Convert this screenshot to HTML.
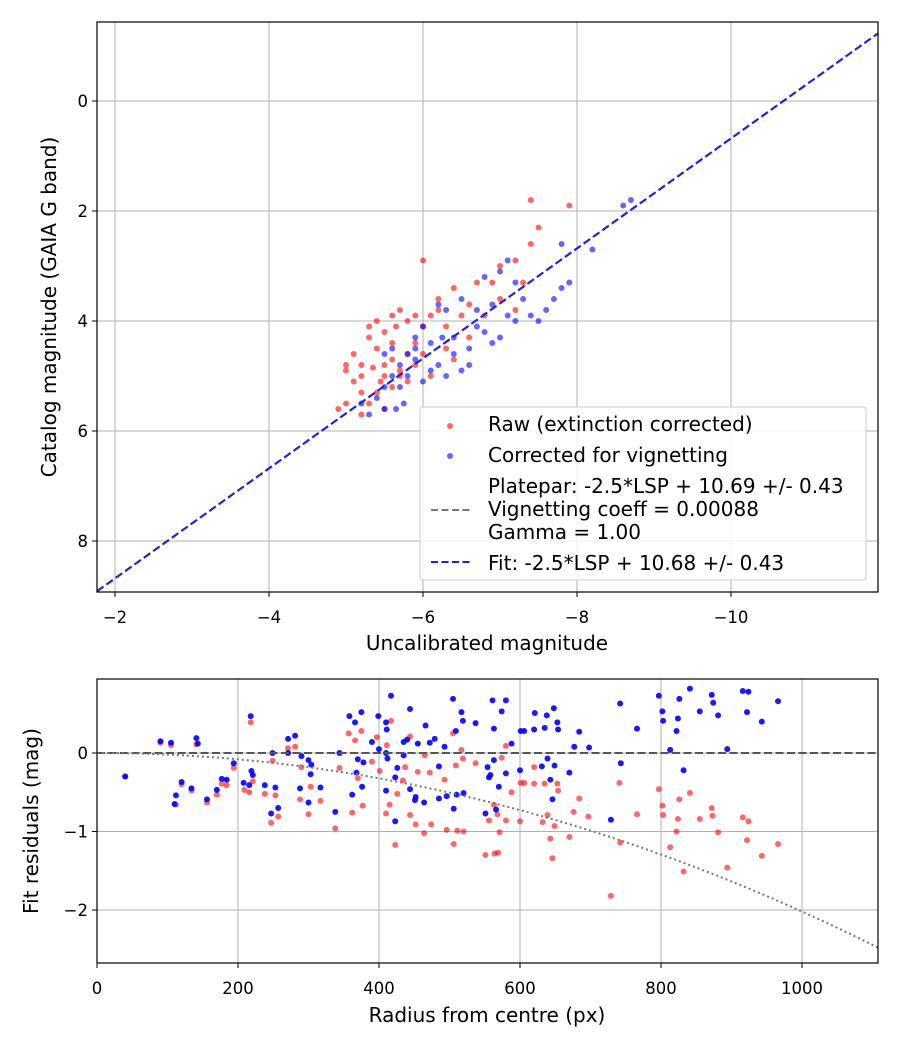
<!DOCTYPE html>
<html><head><meta charset="utf-8"><style>
body{margin:0;background:#fff}
svg text{font-family:"DejaVu Sans","Liberation Sans",sans-serif;fill:#000}
</style></head><body>
<svg id="c" width="900" height="1050" xmlns="http://www.w3.org/2000/svg"></svg>
<script>
const topXTicks=[-2,-4,-6,-8,-10];
const topYTicks=[0,2,4,6,8];
const botXTicks=[0,200,400,600,800,1000];
const botYTicks=[0,-1,-2];
const fitIntercept=10.68;
const vignK=2.02e-6;
const topRed=[[-5.0,4.9],[-5.1,4.6],[-5.2,5.0],[-5.3,4.3],[-5.2,4.8],[-5.4,4.5],[-5.5,4.2],[-5.6,3.9],[-5.7,3.8],[-5.6,4.7],[-5.5,5.0],[-5.4,5.3],[-5.3,5.5],[-5.0,5.5],[-5.2,5.7],[-5.5,5.6],[-5.6,5.2],[-5.8,4.6],[-5.9,4.4],[-6.0,4.1],[-6.1,3.9],[-6.0,2.9],[-6.2,3.6],[-6.4,3.4],[-6.5,3.9],[-6.6,3.7],[-6.7,3.3],[-6.9,3.3],[-7.0,3.0],[-7.2,2.9],[-7.3,3.3],[-7.4,2.6],[-7.5,2.3],[-7.4,1.8],[-7.9,1.9],[-7.0,3.6],[-7.2,3.8],[-6.3,4.5],[-6.4,4.7],[-6.1,5.0],[-5.9,4.8],[-5.7,4.9],[-5.8,5.1],[-5.4,4.0],[-5.6,4.4],[-5.3,4.1],[-5.1,5.1],[-4.9,5.6],[-5.2,5.3],[-5.7,5.0],[-5.9,3.9],[-6.3,4.1],[-6.6,4.3],[-6.0,4.6],[-5.5,4.8],[-5.35,4.85],[-5.45,5.1],[-5.65,4.1],[-6.2,3.8],[-5.8,4.0],[-5.0,4.8],[-6.8,3.9]];
const topBlue=[[-5.3,5.7],[-5.5,5.2],[-5.6,5.0],[-5.7,4.8],[-5.8,4.6],[-5.9,4.3],[-6.0,4.1],[-6.1,4.4],[-6.2,4.8],[-6.3,5.0],[-6.5,4.9],[-6.4,4.6],[-6.6,4.5],[-6.7,4.1],[-6.8,4.2],[-6.9,4.4],[-7.0,4.3],[-7.1,3.9],[-7.2,4.0],[-7.3,3.6],[-7.4,3.9],[-7.5,4.0],[-7.6,3.8],[-7.7,3.6],[-7.8,3.4],[-7.9,3.3],[-7.8,2.6],[-8.2,2.7],[-8.6,1.9],[-8.7,1.8],[-7.1,2.9],[-7.0,3.1],[-6.8,3.2],[-6.5,3.6],[-6.3,3.8],[-6.2,3.7],[-5.9,4.7],[-5.7,5.2],[-5.5,5.6],[-5.6,4.5],[-5.8,5.0],[-6.0,5.1],[-6.1,4.9],[-6.4,4.3],[-6.6,4.8],[-5.4,5.4],[-5.2,5.5],[-5.5,4.6],[-5.9,4.5],[-6.7,3.8],[-7.2,3.3],[-6.9,3.7],[-6.25,4.3],[-5.75,5.5],[-5.65,5.6]];
const botRed=[[40,-0.30],[90,0.13],[105,0.10],[141,0.11],[112,-0.66],[120,-0.40],[134,-0.48],[156,-0.63],[170,-0.53],[177,-0.39],[184,-0.41],[194,-0.19],[209,-0.47],[216,-0.50],[218,0.39],[221,-0.36],[238,-0.52],[247,-0.89],[249,-0.10],[253,-0.54],[257,-0.81],[271,0.06],[281,0.08],[290,-0.18],[288,-0.59],[300,-0.78],[303,-0.43],[317,-0.61],[338,-0.96],[344,-0.19],[357,0.25],[362,-0.76],[366,0.16],[370,-0.32],[375,0.28],[377,-0.67],[390,-0.11],[397,0.20],[401,-0.23],[410,-0.77],[411,0.10],[417,0.41],[415,-0.66],[423,-1.17],[426,-0.52],[434,-0.35],[437,-0.18],[444,0.21],[444,-0.79],[452,-0.91],[455,-0.24],[465,-0.03],[464,-1.02],[472,-0.25],[474,-0.91],[493,-0.34],[496,-0.98],[505,0.25],[506,-1.16],[509,-0.16],[511,-0.99],[517,0.04],[519,-0.07],[520,-1.00],[537,-0.13],[551,-1.30],[556,-0.86],[563,-0.66],[564,-1.28],[569,-1.27],[571,-1.01],[568,-0.78],[574,-0.06],[580,0.09],[580,-0.86],[588,-0.50],[600,-0.87],[601,-0.38],[606,-0.38],[620,-0.18],[620,-0.39],[632,-0.88],[635,-0.39],[639,-0.79],[643,-1.09],[646,-1.34],[649,-0.93],[653,-0.39],[654,-0.48],[670,-1.07],[676,-0.75],[684,-0.58],[697,-0.81],[729,-1.82],[742,-1.14],[741,-0.38],[766,-0.78],[797,-0.46],[802,-0.67],[803,-0.79],[813,-1.20],[822,-1.00],[826,-0.59],[824,-0.84],[832,-1.51],[841,-0.51],[855,-0.84],[872,-0.70],[873,-0.80],[881,-1.01],[894,-1.46],[916,-0.82],[924,-0.87],[922,-1.11],[943,-1.31],[966,-1.16]];
const botBlue=[[40,-0.30],[90,0.15],[105,0.13],[141,0.19],[143,0.12],[112,-0.54],[110,-0.65],[120,-0.37],[134,-0.45],[156,-0.59],[170,-0.47],[177,-0.33],[184,-0.34],[194,-0.13],[208,-0.38],[216,-0.41],[218,0.47],[219,-0.23],[221,-0.28],[238,-0.41],[247,-0.77],[249,0.00],[253,-0.44],[257,-0.70],[271,0.18],[281,0.22],[271,0.00],[290,-0.04],[300,-0.09],[304,-0.15],[288,-0.45],[300,-0.63],[303,-0.27],[317,-0.44],[338,-0.75],[344,0.00],[358,0.47],[362,-0.53],[366,0.39],[368,-0.25],[370,-0.08],[375,0.52],[376,-0.43],[378,-0.12],[390,0.14],[399,0.47],[400,0.05],[410,0.39],[411,0.30],[410,0.00],[412,-0.07],[417,0.73],[410,-0.48],[423,-0.31],[423,-0.87],[426,-0.19],[435,0.14],[435,-0.03],[440,0.17],[444,0.56],[444,-0.46],[452,-0.56],[451,-0.60],[455,0.12],[464,-0.63],[466,0.35],[472,0.13],[479,0.18],[485,-0.17],[485,-0.58],[493,0.08],[496,-0.55],[505,0.69],[506,-0.71],[509,0.28],[510,-0.53],[517,0.52],[519,0.41],[520,-0.51],[537,0.38],[551,-0.77],[554,-0.18],[556,-0.31],[558,-0.28],[561,0.67],[563,0.31],[563,-0.09],[566,-0.72],[570,-0.43],[574,0.53],[580,0.67],[580,-0.26],[588,0.12],[601,0.28],[606,0.28],[600,-0.22],[620,0.30],[621,0.51],[631,-0.17],[635,0.32],[638,0.48],[639,-0.07],[643,-0.34],[646,-0.59],[648,0.57],[649,-0.16],[653,0.39],[654,0.30],[670,-0.25],[677,0.08],[684,0.27],[698,0.07],[729,-0.85],[742,0.63],[743,-0.13],[766,0.31],[797,0.73],[802,0.53],[803,0.41],[813,0.04],[822,0.28],[824,0.44],[826,0.69],[832,-0.22],[841,0.82],[855,0.53],[872,0.74],[874,0.64],[881,0.48],[894,0.05],[916,0.79],[922,0.52],[924,0.78],[943,0.40],[966,0.66]];

const S=document.getElementById('c');
const NS='http://www.w3.org/2000/svg';
function mk(tag,attrs,parent,text){const e=document.createElementNS(NS,tag);for(const k in attrs)e.setAttribute(k,attrs[k]);if(text!==undefined)e.textContent=text;(parent||S).appendChild(e);return e;}
const fmt=v=>(v<0?'\u2212':'')+Math.abs(v);

const T={l:97,r:878,t:22,b:592};
const tx=v=>115+(-2-v)*77;
const ty=v=>101+v*55;
const B={l:97,r:878,t:679,b:963};
const bx=v=>97+v*0.705;
const by=v=>753-v*78.5;
const TF=16.5, LF=20;

function grid(xt,yt,fx,fy,A,g){
  xt.forEach(v=>{const l=mk('line',{x1:fx(v),x2:fx(v),y1:A.t,y2:A.b,stroke:'#b0b0b0','stroke-width':1},g);});
  yt.forEach(v=>{const l=mk('line',{x1:A.l,x2:A.r,y1:fy(v),y2:fy(v),stroke:'#b0b0b0','stroke-width':1},g);});
}
function ticks(xt,yt,fx,fy,A,g){
  xt.forEach(v=>{mk('line',{x1:fx(v),x2:fx(v),y1:A.b,y2:A.b+5,stroke:'#000'},g);const t=mk('text',{x:fx(v),y:A.b+31,'text-anchor':'middle','font-size':TF},g,fmt(v));});
  yt.forEach(v=>{mk('line',{x1:A.l-5,x2:A.l,y1:fy(v),y2:fy(v),stroke:'#000'},g);const t=mk('text',{x:A.l-9,y:fy(v)+6,'text-anchor':'end','font-size':TF},g,fmt(v));});
  mk('rect',{x:A.l,y:A.t,width:A.r-A.l,height:A.b-A.t,fill:'none',stroke:'#000','stroke-width':1.2},g);
}
const R=3;
const gt=mk('g',{});
mk('clipPath',{id:'ct'},gt);mk('rect',{x:T.l,y:T.t,width:T.r-T.l,height:T.b-T.t},document.getElementById('ct'));
grid(topXTicks,topYTicks,tx,ty,T,gt);
const pt=mk('g',{'clip-path':'url(#ct)'},gt);
topRed.forEach(d=>{const c=mk('circle',{cx:tx(d[0]),cy:ty(d[1]),r:R,fill:'#ff0000','fill-opacity':0.6},pt);});
topBlue.forEach(d=>{const c=mk('circle',{cx:tx(d[0]),cy:ty(d[1]),r:R,fill:'#0000ff','fill-opacity':0.6},pt);});
const x0=-1.766,x1=-11.91;
const fl=mk('line',{x1:tx(x0),y1:ty(x0+fitIntercept),x2:tx(x1),y2:ty(x1+fitIntercept),stroke:'#2222dd','stroke-width':2.2,'stroke-dasharray':'8,3.5'},pt);

ticks(topXTicks,topYTicks,tx,ty,T,gt);
let t=mk('text',{x:487,y:650,'text-anchor':'middle','font-size':LF},gt,'Uncalibrated magnitude');
t=mk('text',{x:0,y:0,'text-anchor':'middle','font-size':LF,transform:'translate(56,307) rotate(-90)'},gt,'Catalog magnitude (GAIA G band)');
const lg=mk('g',{});
mk('rect',{x:420,y:407,width:446,height:173,rx:3,fill:'#fff','fill-opacity':0.85,stroke:'#ccc'},lg);
mk('circle',{cx:450,cy:426,r:R,fill:'#f00','fill-opacity':0.6},lg);
t=mk('text',{x:488,y:431,'font-size':LF},lg,'Raw (extinction corrected)');
mk('circle',{cx:450,cy:456,r:R,fill:'#00f','fill-opacity':0.6},lg);
t=mk('text',{x:488,y:462,'font-size':LF},lg,'Corrected for vignetting');
mk('line',{x1:431,x2:471,y1:510,y2:510,stroke:'#777','stroke-width':2,'stroke-dasharray':'7,3.5'},lg);
t=mk('text',{x:488,y:493,'font-size':LF},lg,'Platepar: -2.5*LSP + 10.69 +/- 0.43');
mk('text',{x:488,y:516,'font-size':LF},lg,'Vignetting coeff = 0.00088');
mk('text',{x:488,y:539,'font-size':LF},lg,'Gamma = 1.00');
mk('line',{x1:431,x2:471,y1:562,y2:562,stroke:'#2222dd','stroke-width':2,'stroke-dasharray':'7,3.5'},lg);
t=mk('text',{x:488,y:570,'font-size':LF},lg,'Fit: -2.5*LSP + 10.68 +/- 0.43');

const gb=mk('g',{});
mk('clipPath',{id:'cb'},gb);mk('rect',{x:B.l,y:B.t,width:B.r-B.l,height:B.b-B.t},document.getElementById('cb'));
grid(botXTicks,botYTicks,bx,by,B,gb);
const pb=mk('g',{'clip-path':'url(#cb)'},gb);
botRed.forEach(d=>{const c=mk('circle',{cx:bx(d[0]),cy:by(d[1]),r:R,fill:'#ff0000','fill-opacity':0.6},pb);});
botBlue.forEach(d=>{const c=mk('circle',{cx:bx(d[0]),cy:by(d[1]),r:R,fill:'#0000ff','fill-opacity':0.9},pb);});
const zl=mk('line',{x1:B.l,x2:B.r,y1:by(0),y2:by(0),stroke:'#555','stroke-width':2,'stroke-dasharray':'8,3.5'},pb);

let d='';for(let r=0;r<=1110;r+=10){d+=(r?'L':'M')+bx(r).toFixed(1)+','+by(-vignK*r*r).toFixed(1);}
const vc=mk('path',{d:d,fill:'none',stroke:'#777','stroke-width':2,'stroke-dasharray':'2,3'},pb);

ticks(botXTicks,botYTicks,bx,by,B,gb);
t=mk('text',{x:487,y:1022,'text-anchor':'middle','font-size':LF},gb,'Radius from centre (px)');
t=mk('text',{x:0,y:0,'text-anchor':'middle','font-size':LF,transform:'translate(38,821) rotate(-90)'},gb,'Fit residuals (mag)');
</script>
</body></html>
